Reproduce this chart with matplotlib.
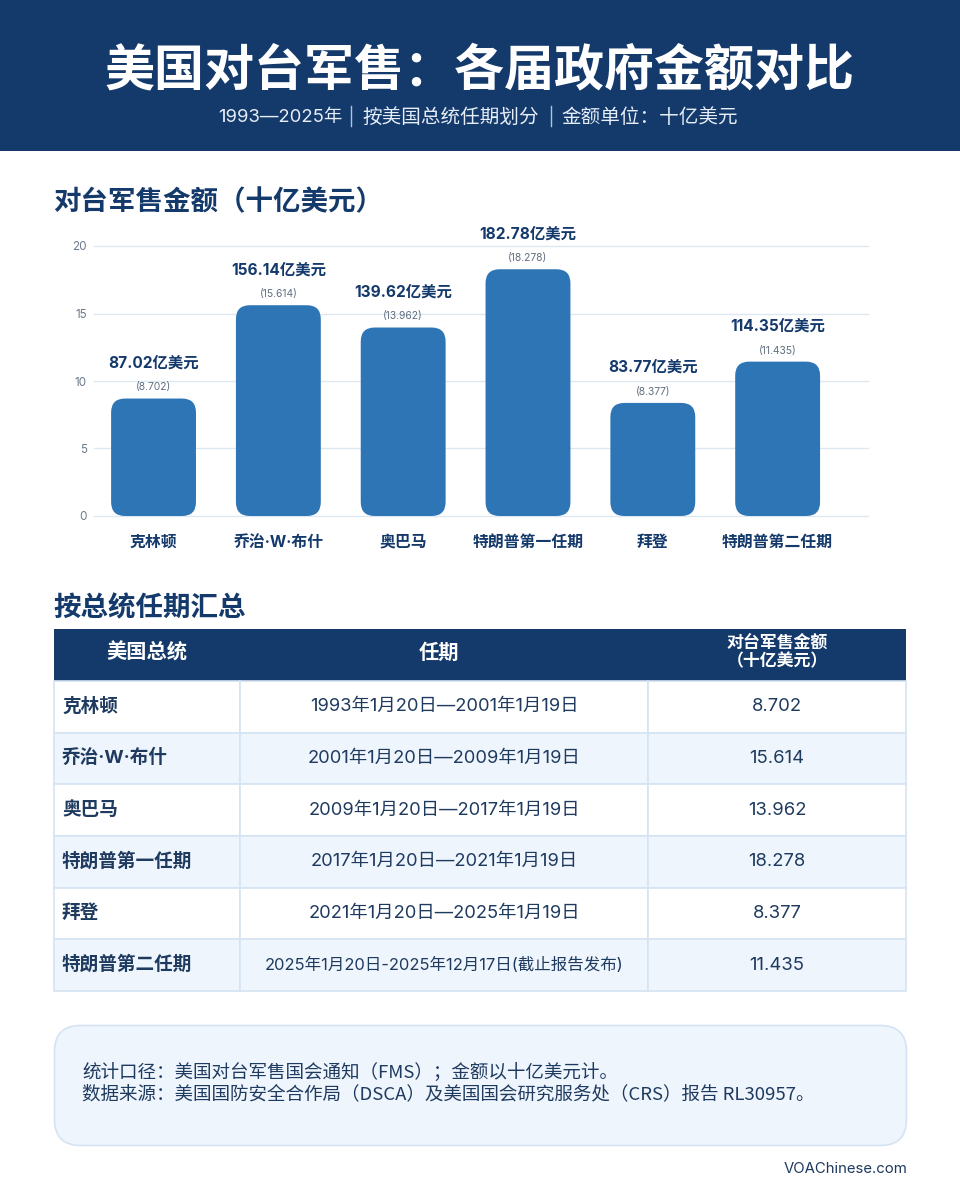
import matplotlib
matplotlib.use("Agg")
import matplotlib.pyplot as plt
from matplotlib.patches import FancyBboxPatch, Rectangle

# ---------- Data ----------
presidents = ["克林顿", "乔治·W·布什", "奥巴马", "特朗普第一任期", "拜登", "特朗普第二任期"]
amounts = [8.702, 15.614, 13.962, 18.278, 8.377, 11.435]
amount_labels = ["87.02亿美元", "156.14亿美元", "139.62亿美元", "182.78亿美元", "83.77亿美元", "114.35亿美元"]
amount_text = ["8.702", "15.614", "13.962", "18.278", "8.377", "11.435"]
terms = [
    "1993年1月20日—2001年1月19日",
    "2001年1月20日—2009年1月19日",
    "2009年1月20日—2017年1月19日",
    "2017年1月20日—2021年1月19日",
    "2021年1月20日—2025年1月19日",
    "2025年1月20日-2025年12月17日(截止报告发布)",
]
y_ticks = [0, 5, 10, 15, 20]
headers = ["美国总统", "任期", "对台军售金额\n（十亿美元）"]

NAVY = "#14396B"
BLUE = "#2E75B6"
GRID = "#DCE8F2"
PALE = "#EEF5FC"
EDGE = "#D5E3F2"
INK = "#1F3A5F"
CJK = ["Noto Sans CJK SC", "DejaVu Sans"]
MIX = ["Inter", "Noto Sans CJK SC", "DejaVu Sans"]

plt.rcParams["font.family"] = MIX

fig = plt.figure(figsize=(9.6, 12), dpi=100, facecolor="white")

# page layer, in pixels
page = fig.add_axes([0, 0, 1, 1])
page.set_xlim(0, 960)
page.set_ylim(1200, 0)
page.axis("off")

# ---------- Banner ----------
page.add_patch(Rectangle((0, 0), 960, 150.5, fc=NAVY, ec="none"))
page.text(480, 72, "美国对台军售：各届政府金额对比", color="white", fontsize=36,
          fontweight="bold", family=CJK, ha="center", va="center")
sub_color = "#E6EEF7"
page.text(218, 117.5, "1993—2025年", color=sub_color, fontsize=13.3, ha="left", va="center")
page.text(362, 117.5, "按美国总统任期划分", color=sub_color, fontsize=14.1, ha="left", va="center")
page.text(561, 117.5, "金额单位：十亿美元", color=sub_color, fontsize=14.1, ha="left", va="center")
page.plot([351, 351], [106, 126], color="#AFC3DA", lw=1)
page.plot([551, 551], [106, 126], color="#AFC3DA", lw=1)

# ---------- Section headings ----------
page.text(53, 202, "对台军售金额（十亿美元）", color=NAVY, fontsize=19.8, fontweight="bold",
          family=CJK, ha="left", va="center")
page.text(53, 608.5, "按总统任期汇总", color=NAVY, fontsize=19.8, fontweight="bold",
          family=CJK, ha="left", va="center")

# ---------- Bar chart ----------
ax = fig.add_axes([94 / 960, 1 - 516 / 1200, 773.5 / 960, 270 / 1200])
ax.patch.set_alpha(0)
ax.set_xlim(-0.477, 5.72)
ax.set_ylim(0, 20)
for s in ax.spines.values():
    s.set_visible(False)
ax.set_yticks(y_ticks)
ax.set_yticklabels([str(t) for t in y_ticks], fontsize=8.4, color="#6B7A8C")
ax.set_xticks(range(len(presidents)))
ax.set_xticklabels(presidents, fontsize=11.4, fontweight="bold", color=NAVY)
ax.tick_params(axis="both", length=0)
ax.tick_params(axis="x", pad=13.5)
ax.tick_params(axis="y", pad=5)
ax.grid(axis="y", color=GRID, lw=1, clip_on=False)
ax.set_axisbelow(True)

for i, v in enumerate(amounts):
    bar = FancyBboxPatch((i - 0.34, 0), 0.68, v,
                         boxstyle="round,pad=0,rounding_size=0.112",
                         mutation_aspect=9.26, fc=BLUE, ec="none", zorder=3)
    ax.add_patch(bar)
    ax.annotate("(" + amount_text[i] + ")", (i, v), xytext=(0, 8), textcoords="offset points",
                ha="center", va="center", fontsize=7.4, color="#5F6E80", annotation_clip=False)
    ax.annotate(amount_labels[i], (i, v), xytext=(0, 25.5), textcoords="offset points",
                ha="center", va="center", fontsize=11.1, fontweight="bold", color=NAVY,
                annotation_clip=False)

# ---------- Table ----------
col_x = [54, 240, 648, 906]
head_top, head_bottom = 629, 681
row_h = 51.67

page.add_patch(Rectangle((col_x[0], head_top), col_x[3] - col_x[0], head_bottom - head_top,
                         fc=NAVY, ec="none"))
page.text(147, 652, headers[0], color="white", fontsize=14.6, fontweight="bold", family=CJK,
          ha="center", va="center")
page.text(439, 652, headers[1], color="white", fontsize=14.6, fontweight="bold", family=CJK,
          ha="center", va="center")
page.text(777, 652, headers[2], color="white", fontsize=12.2, fontweight="bold", family=CJK,
          ha="center", va="center", linespacing=1.05)

for r, name in enumerate(presidents):
    top = head_bottom + r * row_h
    mid = top + row_h / 2 - 2
    fill = PALE if r % 2 else "white"
    for c in range(3):
        page.add_patch(Rectangle((col_x[c], top), col_x[c + 1] - col_x[c], row_h,
                                 fc=fill, ec=EDGE, lw=1.2))
    page.text(62, mid + 1.5, name, color=INK, fontsize=13.4, fontweight="bold",
              ha="left", va="center")
    page.text(444, mid + 2, terms[r], color=INK, fontsize=11.9 if r == 5 else 13.2,
              ha="center", va="center")
    page.text(777, mid + 2, amount_text[r], color=INK, fontsize=13.3, ha="center", va="center")

# ---------- Notes box ----------
page.add_patch(FancyBboxPatch((54.5, 1025.5), 852, 120,
                              boxstyle="round,pad=0,rounding_size=26",
                              fc=PALE, ec=EDGE, lw=1.2))
page.text(82, 1072, "统计口径：美国对台军售国会通知（FMS）；金额以十亿美元计。", color=INK,
          fontsize=13.35, family=CJK, ha="left", va="center")
page.text(82, 1094, "数据来源：美国国防安全合作局（DSCA）及美国国会研究服务处（CRS）报告 RL30957。",
          color=INK, fontsize=13.35, family=CJK, ha="left", va="center")

page.text(907, 1169, "VOAChinese.com", color=INK, fontsize=10.75, ha="right", va="center")

fig.savefig("out.png", dpi=100)
plt.close(fig)
